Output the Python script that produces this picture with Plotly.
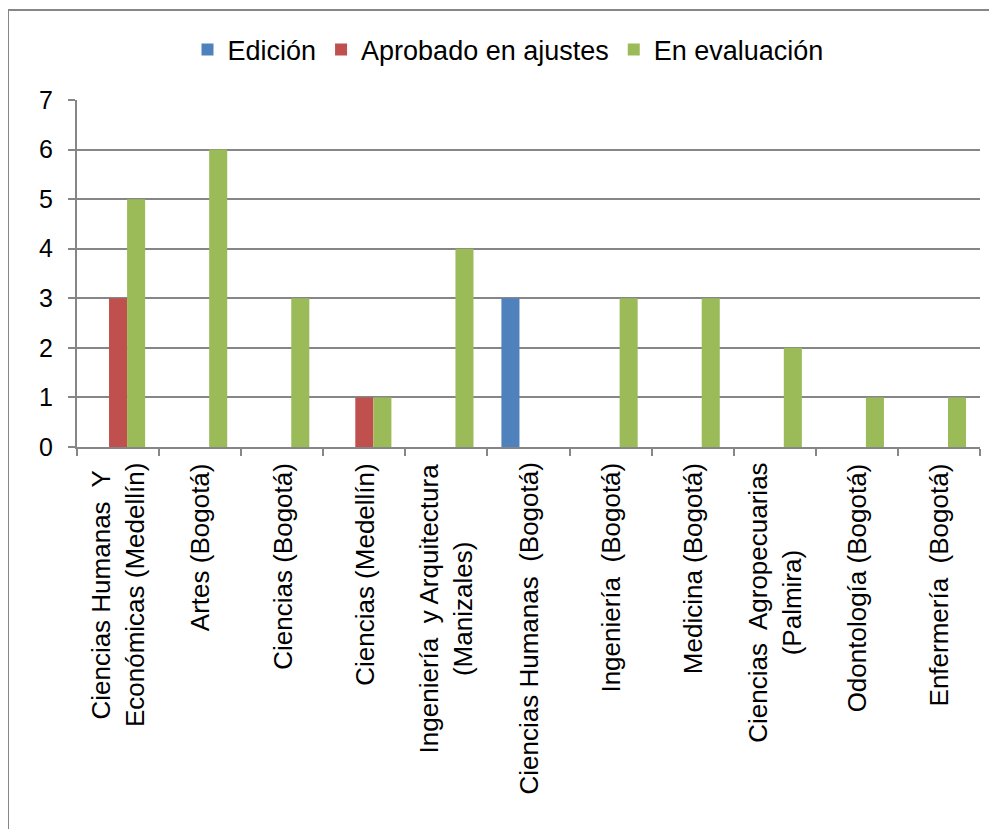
import plotly.graph_objects as go

categories = [
    "Ciencias Humanas\u00a0 Y<br>Económicas (Medellín)",
    "Artes (Bogotá)",
    "Ciencias (Bogotá)",
    "Ciencias (Medellín)",
    "Ingeniería\u00a0 y Arquitectura<br>(Manizales)",
    "Ciencias Humanas\u00a0 (Bogotá)",
    "Ingeniería\u00a0 (Bogotá)",
    "Medicina (Bogotá)",
    "Ciencias\u00a0 Agropecuarias<br>(Palmira)",
    "Odontología (Bogotá)",
    "Enfermería\u00a0 (Bogotá)",
]
edicion = [0, 0, 0, 0, 0, 3, 0, 0, 0, 0, 0]
aprobado = [3, 0, 0, 1, 0, 0, 0, 0, 0, 0, 0]
evaluacion = [5, 6, 3, 1, 4, 0, 3, 3, 2, 1, 1]
series_names = ["Edición", "Aprobado en ajustes", "En evaluación"]
y_ticks = [0, 1, 2, 3, 4, 5, 6, 7]

colors = ["#4F81BD", "#C0504D", "#9BBB59"]
FONT = "Liberation Sans, Arial, sans-serif"

keys = [f"c{i}" for i in range(len(categories))]

fig = go.Figure()
for name, vals, c in zip(series_names, [edicion, aprobado, evaluacion], colors):
    fig.add_trace(go.Bar(x=keys, y=vals, name=name,
                         marker=dict(color=c, line=dict(width=0))))

OFF = 8  # default body margin of the html page
W, H = 997 - OFF, 829 - OFF
L, T = 77 - OFF, 100 - OFF
pw, ph = 903, 347
R = W - L - pw
B = H - T - ph

fig.update_layout(
    width=W, height=H,
    margin=dict(l=L, r=R, t=T, b=B, autoexpand=False),
    paper_bgcolor="white", plot_bgcolor="white",
    barmode="group", bargap=0.34, bargroupgap=0,
    font=dict(family=FONT, size=26, color="black"),
    legend=dict(orientation="h", x=(508 - 77) / pw, xanchor="center",
                y=1 + (100 - 50) / ph, yanchor="middle",
                font=dict(size=27), itemwidth=30, traceorder="normal",
                bgcolor="rgba(0,0,0,0)"),
    showlegend=True,
)
fig.update_xaxes(
    type="category", showticklabels=False, tickson="boundaries",
    ticks="outside", ticklen=7, tickcolor="#868686", tickwidth=2,
    showline=True, linecolor="#868686", linewidth=2, showgrid=False,
    zeroline=False,
)
fig.update_yaxes(
    range=[0, 7], tickvals=y_ticks, ticks="outside", ticklen=7,
    tickcolor="#868686", tickwidth=2, showline=True, linecolor="#868686",
    linewidth=2, showgrid=True, gridcolor="#868686", gridwidth=2,
    zeroline=False, tickfont=dict(size=25), ticklabelstandoff=10,
)

for k, lab in zip(keys, categories):
    fig.add_annotation(x=k, xref="x", y=-(461 - 447) / ph, yref="paper",
                       text=lab, textangle=-90, showarrow=False,
                       xanchor="center", yanchor="top", align="center",
                       font=dict(size=26, family=FONT, color="black"))

# outer chart frame (top and left edges visible)
fx = (8 - 77) / pw
fy = 1 + (100 - 10) / ph
fig.add_shape(type="line", xref="paper", yref="paper", x0=fx, x1=1.2, y0=fy, y1=fy,
              line=dict(color="#868686", width=2))
fig.add_shape(type="line", xref="paper", yref="paper", x0=fx, x1=fx, y0=fy, y1=-1.2,
              line=dict(color="#868686", width=2))

fig.write_html("out.html")
